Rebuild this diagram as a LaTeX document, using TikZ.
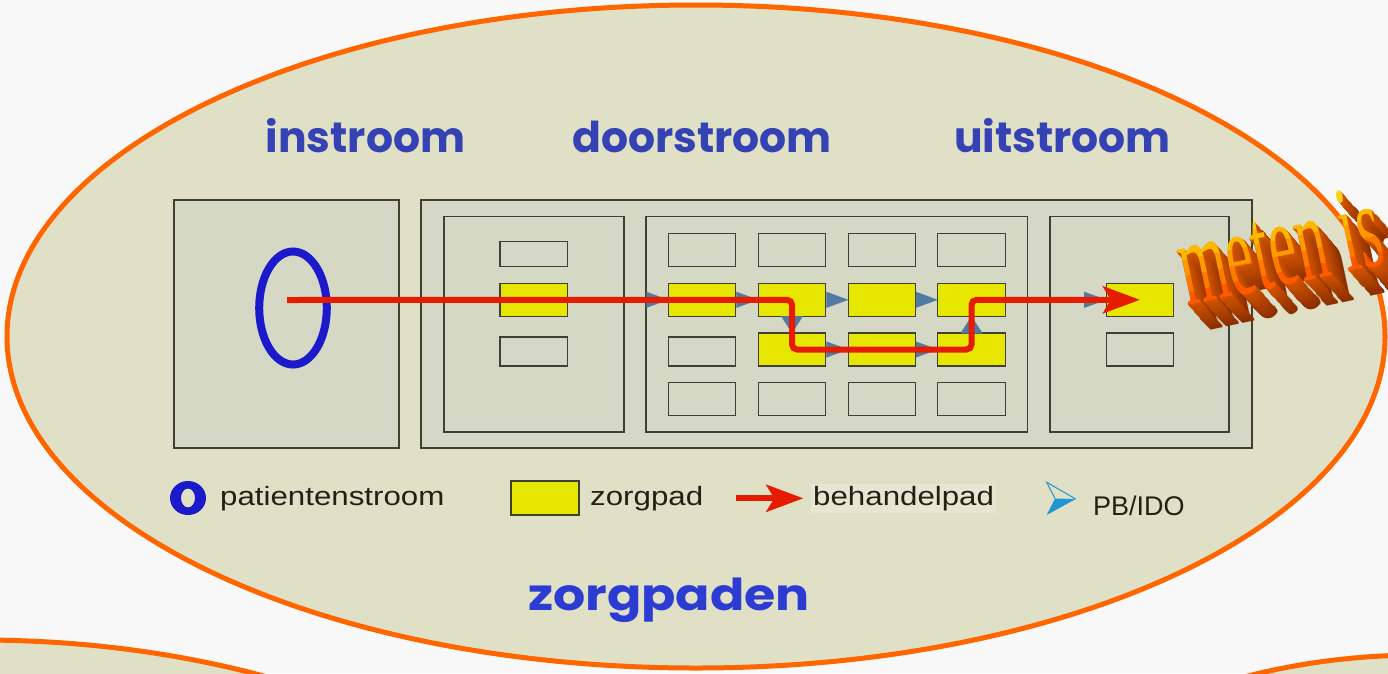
\documentclass[tikz,border=0pt]{standalone}
\usepackage{fontspec}
\usetikzlibrary{arrows.meta,calc,shapes.geometric}
\newfontfamily\legfont{Liberation Sans}
\newfontfamily\titfont{Poppins}
\newfontfamily\wafont{Liberation Serif}
\definecolor{bg}{HTML}{F8F8F8}
\definecolor{ell}{HTML}{E0E0C6}
\definecolor{ellline}{HTML}{FF6600}
\definecolor{boxfill}{HTML}{D4D8C4}
\definecolor{boxline}{HTML}{404032}
\definecolor{zyellow}{HTML}{E6E600}
\definecolor{zred}{HTML}{E61C00}
\definecolor{pbblue}{HTML}{5279A0}
\definecolor{pblight}{HTML}{2196D0}
\definecolor{ringblue}{HTML}{1A1ACA}
\definecolor{titblue}{HTML}{3542B4}
\definecolor{zpblue}{HTML}{2C3BD2}
\definecolor{txt}{HTML}{222214}
\definecolor{behbg}{HTML}{E6E6D2}
\definecolor{waside}{HTML}{D25400}
\definecolor{wadark}{HTML}{8A2E00}
\definecolor{waA}{HTML}{FFD21A}
\definecolor{waB}{HTML}{FFB800}
\definecolor{waC}{HTML}{FF9A00}
\definecolor{waD}{HTML}{FF7A00}
\definecolor{waE}{HTML}{FF5A00}
\tikzset{
  region/.style={draw=ellline, fill=ell, line width=5pt, ellipse, inner sep=0, outer sep=0},
  panel/.style={draw=boxline, fill=boxfill, line width=1.2pt, inner sep=0, outer sep=0},
  cell/.style={draw=boxline, line width=1.2pt, inner sep=0, outer sep=0, minimum width=67.5pt, minimum height=33pt},
  ycell/.style={cell, fill=zyellow},
  redpath/.style={draw=zred, line width=6pt, rounded corners=5pt, -{Stealth[length=37pt,width=27pt,inset=8pt]}},
  pbh/.style={draw=pbblue, line width=0.1pt, -{Triangle[length=22pt,width=16pt]}},
  pbv/.style={draw=pbblue, line width=0.1pt, -{Triangle[length=17pt,width=22pt]}},
  title/.style={font=\titfont\bfseries\fontsize{42.5}{46}\selectfont, text=titblue, anchor=base, inner sep=0},
  legtext/.style={font=\legfont\fontsize{26.5}{30}\selectfont, text=txt, anchor=base west, inner sep=0},
  wa/.style={font=\wafont\fontsize{122}{122}\selectfont, transform shape, anchor=base west, inner sep=0, xscale=0.5}
}
\begin{document}
\begin{tikzpicture}[x=1pt,y=-1pt]
\useasboundingbox (0,0) rectangle (1388,673);
\clip (0,0) rectangle (1388,673);
\fill[bg] (0,0) rectangle (1388,673);
% regions
\node[region, minimum width=1378pt, minimum height=663pt] (zp) at (696,336.5) {};
\node[region, minimum width=1300pt, minimum height=720pt] (bl) at (-20,1000) {};
\node[region, minimum width=1000pt, minimum height=690pt] (br) at (1420,1000) {};
% titles
\node[title] (tin) at (365.5,152.7) {instroom};
\node[title] (tdoor) at (702,152.7) {doorstroom};
\node[title] (tuit) at (1062.5,152.7) {uitstroom};
\node[title, text=zpblue, font=\titfont\bfseries\fontsize{44}{46}\selectfont] (tzp) at (669,610) {\scalebox{1.15}[1]{zorgpaden}};
% panels
\node[panel, minimum width=225pt, minimum height=248pt] (pin) at (286.5,324) {};
\node[panel, minimum width=831pt, minimum height=248pt] (pmain) at (836.5,324) {};
\node[panel, minimum width=180pt, minimum height=215.3pt] (le) at (534,324.3) {};
\node[panel, minimum width=381.7pt, minimum height=215.3pt] (mi) at (836.8,324.3) {};
\node[panel, minimum width=179pt, minimum height=215.3pt] (ri) at (1139.5,324.3) {};
% left column
\node[cell, minimum height=25pt] (l1) at (533.8,254.2) {};
\node[ycell] (l2) at (533.8,299.8) {};
\node[cell, minimum height=29pt] (l3) at (533.8,351.5) {};
% middle grid
\node[cell] (c11) at (702,250) {};
\node[cell] (c12) at (792,250) {};
\node[cell] (c13) at (882,250) {};
\node[cell] (c14) at (971.5,250) {};
\node[ycell] (c21) at (702,299.8) {};
\node[ycell] (c22) at (792,299.8) {};
\node[ycell] (c23) at (882,299.8) {};
\node[ycell] (c24) at (971.5,299.8) {};
\node[cell, minimum height=29pt] (c31) at (702,351.5) {};
\node[ycell] (c32) at (792,349.5) {};
\node[ycell] (c33) at (882,349.5) {};
\node[ycell] (c34) at (971.5,349.5) {};
\node[cell] (c41) at (702,399) {};
\node[cell] (c42) at (792,399) {};
\node[cell] (c43) at (882,399) {};
\node[cell] (c44) at (971.5,399) {};
% right column
\node[ycell] (ry) at (1139.9,299.8) {};
\node[cell] (rb) at (1139.9,349.4) {};
% patient ring
\node[draw=ringblue, line width=8pt, ellipse, minimum width=67.6pt, minimum height=113pt, inner sep=0] (ring) at (293,308) {};
% PB/IDO arrows
\draw[pbh] (c21.west -| mi.west) -- (c21.west);
\draw[pbh] (c21.east) -- (c22.west);
\draw[pbh] (c22.east) -- (c23.west);
\draw[pbh] (c23.east) -- (c24.west);
\draw[pbv] (c22.south) -- (c32.north);
\draw[pbh] (c32.east) -- (c33.west);
\draw[pbh] (c33.east) -- (c34.west);
\draw[pbv] (c34.north) -- (c24.south);
\draw[pbh] ($(ry.west)+(-22,0)$) -- (ry.west);
% behandelpad
\coordinate (start) at (287,300);
\draw[redpath] (start) -- (l2.center) -- (c22.center) -- (c32.center) -- (c34.center) -- (c24.center) -- (ry.center);
% legend
\fill[ringblue, even odd rule] (188,498) ellipse [x radius=18, y radius=17] (188,498) ellipse [x radius=7, y radius=9.5];
\node[legtext] (lt1) at (220,505) {\scalebox{1.18}[1]{patientenstroom}};
\node[ycell, minimum width=68pt, minimum height=34pt] (lbox) at (545,498) {};
\node[legtext] (lt2) at (590,505) {\scalebox{1.18}[1]{zorgpad}};
\coordinate (la1) at (736,498.3);
\coordinate (la2) at (803.3,498.3);
\draw[redpath] (la1) -- (la2);
\node[legtext, fill=behbg, inner xsep=2pt, text height=21pt, text depth=8pt] (lt3) at (811,505) {\scalebox{1.18}[1]{behandelpad}};
\coordinate (ptl) at (1046.7,482.3);
\coordinate (ptip) at (1075.7,499);
\coordinate (pbl) at (1046.7,515);
\coordinate (pnotch) at (1055,498.5);
\fill[pblight] (pnotch) -- (ptip) -- (pbl) -- cycle;
\draw[pblight, line width=1pt, line join=miter] (pnotch) -- (ptl) -- (ptip);
\node[legtext, font=\legfont\fontsize{27}{30}\selectfont] (lt4) at (1093,515.7) {PB/IDO};
% meten is (3D word art)
\foreach \i in {26,25,...,1}{
  \pgfmathtruncatemacro\p{100*\i/26}
  \begin{scope}[shift={({1187+0.85*\i},{306+0.95*\i})}, rotate=12]
    \node[wa, text=wadark!\p!waside] at (0,0) {meten is};
  \end{scope}
}
\begin{scope}[shift={(1187,306)}, rotate=12]
  \foreach \a/\b/\c in {-140/-62/waA, -62/-46/waB, -46/-30/waC, -30/-14/waD, -14/60/waE}{
    \begin{scope}
      \clip (-20,\a) rectangle (400,\b);
      \node[wa, text=\c] at (0,0) {meten is};
    \end{scope}
  }
\end{scope}
\end{tikzpicture}
\end{document}
